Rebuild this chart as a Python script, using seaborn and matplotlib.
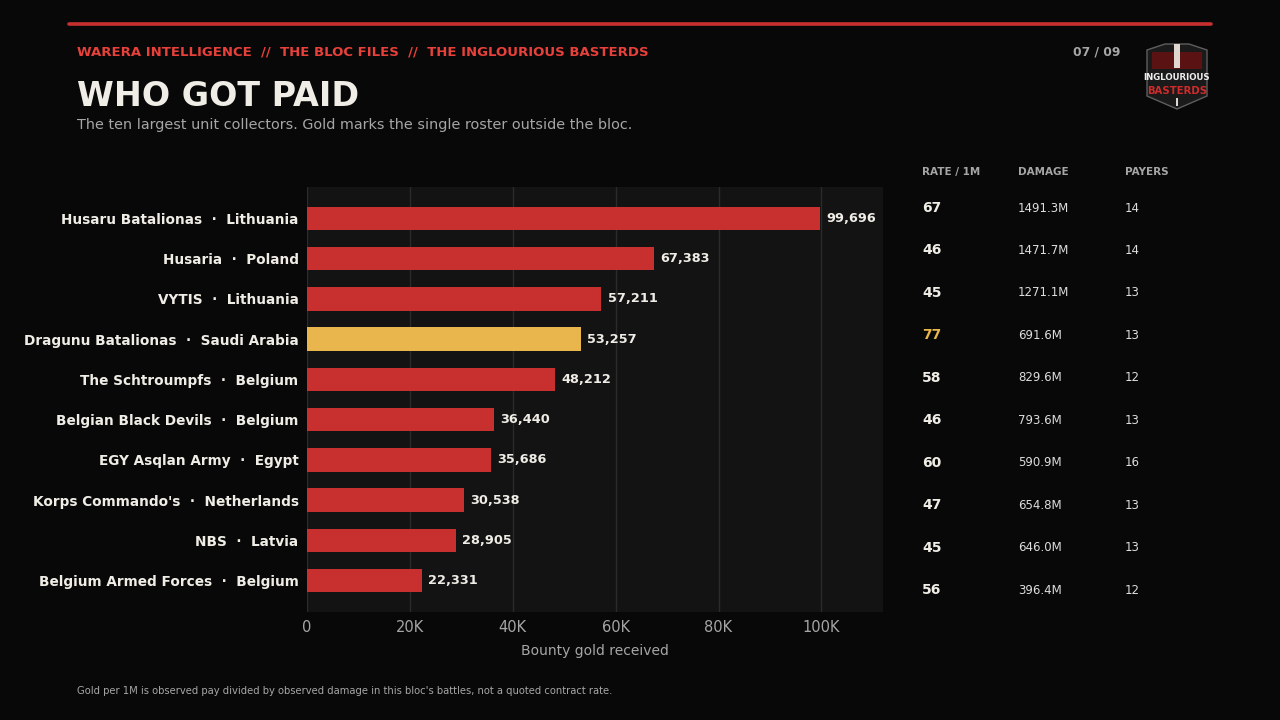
import matplotlib
matplotlib.use('agg')
import matplotlib.pyplot as plt
from matplotlib.patches import Polygon, Rectangle
from matplotlib.ticker import FuncFormatter
import pandas as pd
import seaborn as sns

# data
units = ['Husaru Batalionas', 'Husaria', 'VYTIS', 'Dragunu Batalionas', 'The Schtroumpfs',
         'Belgian Black Devils', 'EGY Asqlan Army', "Korps Commando's", 'NBS', 'Belgium Armed Forces']
countries = ['Lithuania', 'Poland', 'Lithuania', 'Saudi Arabia', 'Belgium',
             'Belgium', 'Egypt', 'Netherlands', 'Latvia', 'Belgium']
gold = [99696, 67383, 57211, 53257, 48212, 36440, 35686, 30538, 28905, 22331]
rate = [67, 46, 45, 77, 58, 46, 60, 47, 45, 56]
damage = ['1491.3M', '1471.7M', '1271.1M', '691.6M', '829.6M',
          '793.6M', '590.9M', '654.8M', '646.0M', '396.4M']
payers = [14, 14, 13, 13, 12, 13, 16, 13, 13, 12]
outside_bloc = [False, False, False, True, False, False, False, False, False, False]

BG = '#080808'
PANEL = '#131313'
RED = '#c82f2f'
GOLD = '#e8b64c'
TXT = '#f0ede6'
GREY = '#a6a6a6'

df = pd.DataFrame({
    'label': [f'{u}  ·  {c}' for u, c in zip(units, countries)],
    'gold': gold,
})
colors = [GOLD if o else RED for o in outside_bloc]

sns.set_theme(style='dark')
plt.rcParams['font.family'] = ['DejaVu Sans']

fig = plt.figure(figsize=(12.8, 7.2), dpi=100, facecolor=BG)
ax = fig.add_axes([0.2398, 0.15, 0.4502, 0.5903])
ax.set_facecolor(PANEL)

sns.barplot(data=df, x='gold', y='label', hue='label', palette=colors,
            orient='h', width=0.58, legend=False, ax=ax, zorder=3, saturation=1,
            linewidth=0, edgecolor='none')

ax.set_xlim(0, 112000)
ax.set_ylim(len(gold) - 1 + 0.78, -0.78)
ax.set_xticks([0, 20000, 40000, 60000, 80000, 100000])
ax.xaxis.set_major_formatter(FuncFormatter(lambda v, p: '0' if v == 0 else f'{int(v / 1000)}K'))
ax.grid(axis='x', color='#2b2b2b', lw=1, zorder=0)
ax.grid(axis='y', visible=False)
for s in ax.spines.values():
    s.set_visible(False)
ax.tick_params(axis='y', colors='#bbbbbb', length=4, width=0.8, labelsize=9.8, pad=2)
ax.tick_params(axis='x', colors='#444444', length=4, width=0.8, labelsize=10.5, labelcolor=GREY, pad=2)
for t in ax.get_yticklabels():
    t.set_color(TXT)
    t.set_fontweight('bold')
ax.set_ylabel('')
ax.set_xlabel('Bounty gold received', color=GREY, fontsize=10, labelpad=6)

for i, v in enumerate(gold):
    ax.annotate(f'{v:,}', (v, i), xytext=(4.5, 0), textcoords='offset points',
                va='center', ha='left', color=TXT, fontsize=9.3, fontweight='bold')

# header
fig.add_artist(plt.Line2D([69 / 1280, 1211 / 1280], [1 - 24 / 720] * 2, color=RED, lw=2.6))
fig.text(77 / 1280, 1 - 52 / 720, 'WARERA INTELLIGENCE  //  THE BLOC FILES  //  THE INGLOURIOUS BASTERDS',
         color='#e8403a', fontsize=9.5, fontweight='bold', va='center')
fig.text(77 / 1280, 1 - 97 / 720, 'WHO GOT PAID', color=TXT, fontsize=24, fontweight='bold', va='center')
fig.text(77 / 1280, 1 - 125 / 720,
         'The ten largest unit collectors. Gold marks the single roster outside the bloc.',
         color=GREY, fontsize=10.4, va='center')
fig.text(1120 / 1280, 1 - 52 / 720, '07 / 09', color=GREY, fontsize=8.8, fontweight='bold',
         va='center', ha='right')

# badge
cx, cy = 1177, 76
pts = [(cx - 30, cy - 26), (cx - 12, cy - 32), (cx + 12, cy - 32), (cx + 30, cy - 26),
       (cx + 30, cy + 20), (cx, cy + 33), (cx - 30, cy + 20)]
fig.add_artist(Polygon([(x / 1280, 1 - y / 720) for x, y in pts], closed=True,
                       facecolor='#1a1a1a', edgecolor='#5e5e5e', lw=1))
fig.add_artist(Rectangle(((cx - 25) / 1280, 1 - (cy - 7) / 720), 50 / 1280, 17 / 720,
                         facecolor='#5a1212', edgecolor='none'))
fig.add_artist(Rectangle(((cx - 3) / 1280, 1 - (cy - 8) / 720), 6 / 1280, 24 / 720,
                         facecolor='#e0d8d0', edgecolor='none'))
fig.add_artist(Rectangle(((cx - 1) / 1280, 1 - (cy + 30) / 720), 2 / 1280, 8 / 720,
                         facecolor='#e0d8d0', edgecolor='none'))
fig.text(cx / 1280, 1 - (cy + 2) / 720, 'INGLOURIOUS', color='#eeeeee', fontsize=6.2,
         fontweight='bold', ha='center', va='center')
fig.text(cx / 1280, 1 - (cy + 15) / 720, 'BASTERDS', color='#d02a2a', fontsize=7.3,
         fontweight='bold', ha='center', va='center')

# side table
cols_x = [922, 1018, 1125]
for x, h in zip(cols_x, ['RATE / 1M', 'DAMAGE', 'PAYERS']):
    fig.text(x / 1280, 1 - 172 / 720, h, color=GREY, fontsize=7.5, fontweight='bold', va='center')
for i in range(len(rate)):
    y = 1 - (208 + i * 42.45) / 720
    fig.text(cols_x[0] / 1280, y, str(rate[i]), color=GOLD if outside_bloc[i] else TXT,
             fontsize=10, fontweight='bold', va='center')
    fig.text(cols_x[1] / 1280, y, damage[i], color='#dddddd', fontsize=8.5, va='center')
    fig.text(cols_x[2] / 1280, y, str(payers[i]), color='#dddddd', fontsize=8.5, va='center')

fig.text(77 / 1280, 1 - 691 / 720,
         "Gold per 1M is observed pay divided by observed damage in this bloc's battles, not a quoted contract rate.",
         color=GREY, fontsize=7.2, va='center')

fig.savefig('out.png', dpi=100, facecolor=BG)
